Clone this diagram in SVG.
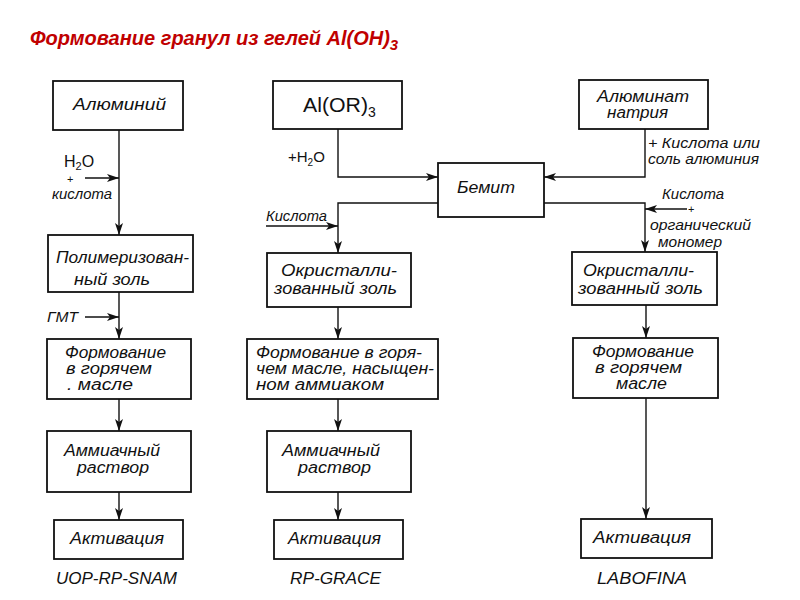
<svg xmlns="http://www.w3.org/2000/svg" width="800" height="600" viewBox="0 0 800 600">
<defs>
<style>
.box{fill:#fff;stroke:#111;stroke-width:1.8}
.ln{fill:none;stroke:#111;stroke-width:1.4}
.t{font-family:"Liberation Sans","DejaVu Sans",sans-serif;font-style:italic;font-size:16px;fill:#111}
.s{font-size:14px}
.u{font-family:"Liberation Sans","DejaVu Sans",sans-serif;font-style:normal;fill:#111}
.title{font-family:"Liberation Sans",Arial,sans-serif;font-weight:bold;font-style:italic;font-size:20px;fill:#c00000}
</style>
<marker id="ah" viewBox="0 0 12 8" refX="12" refY="4" markerWidth="12" markerHeight="8" markerUnits="userSpaceOnUse" orient="auto">
<path d="M0,0 L12,4 L0,8 L3,4 Z" fill="#111"/>
</marker>
</defs>
<rect width="800" height="600" fill="#fff"/>
<text class="title" x="30" y="45">Формование гранул из гелей Al(OH)<tspan dy="5" font-size="15">3</tspan></text>

<g id="connectors">
<path class="ln" d="M119,130 V235" marker-end="url(#ah)"/>
<path class="ln" d="M85,178 H119" marker-end="url(#ah)"/>
<path class="ln" d="M119,292 V339" marker-end="url(#ah)"/>
<path class="ln" d="M85,317 H119" marker-end="url(#ah)"/>
<path class="ln" d="M119,399 V431" marker-end="url(#ah)"/>
<path class="ln" d="M119,492 V520" marker-end="url(#ah)"/>
<path class="ln" d="M338,129 V177 H438" marker-end="url(#ah)"/>
<path class="ln" d="M438,203 H338 V253" marker-end="url(#ah)"/>
<path class="ln" d="M266,226 H338" marker-end="url(#ah)"/>
<path class="ln" d="M338,307 V339" marker-end="url(#ah)"/>
<path class="ln" d="M338,399 V431" marker-end="url(#ah)"/>
<path class="ln" d="M338,492 V520" marker-end="url(#ah)"/>
<path class="ln" d="M645,129 V177 H544" marker-end="url(#ah)"/>
<path class="ln" d="M544,203 H645 V252" marker-end="url(#ah)"/>
<path class="ln" d="M687,209 H645" marker-end="url(#ah)"/>
<path class="ln" d="M646,305 V338" marker-end="url(#ah)"/>
<path class="ln" d="M646,398 V519" marker-end="url(#ah)"/>
</g>

<g id="labels">
<text class="u" x="64" y="167" font-size="16">H<tspan dy="3" font-size="11">2</tspan><tspan dy="-3">O</tspan></text>
<text class="u" x="67" y="183" font-size="11">+</text>
<text class="t s" x="52" y="199" textLength="60" lengthAdjust="spacingAndGlyphs">кислота</text>
<text class="t s" x="47" y="322" textLength="31" lengthAdjust="spacingAndGlyphs">ГМТ</text>
<text class="u" x="288" y="162" font-size="15">+H<tspan dy="4" font-size="10">2</tspan><tspan dy="-4">O</tspan></text>
<text class="t s" x="266" y="221" textLength="61" lengthAdjust="spacingAndGlyphs">Кислота</text>
<text class="t s" x="648" y="148" textLength="112" lengthAdjust="spacingAndGlyphs">+ Кислота или</text>
<text class="t s" x="648" y="164" textLength="111" lengthAdjust="spacingAndGlyphs">соль алюминия</text>
<text class="t s" x="662" y="199" textLength="62" lengthAdjust="spacingAndGlyphs">Кислота</text>
<text class="u" x="688" y="213" font-size="11">+</text>
<text class="t s" x="650" y="230" textLength="101" lengthAdjust="spacingAndGlyphs">органический</text>
<text class="t s" x="658" y="247" textLength="64" lengthAdjust="spacingAndGlyphs">мономер</text>
<text class="t" x="56" y="584" textLength="121" lengthAdjust="spacingAndGlyphs">UOP-RP-SNAM</text>
<text class="t" x="290" y="584" textLength="91" lengthAdjust="spacingAndGlyphs">RP-GRACE</text>
<text class="t" x="597" y="584" textLength="90" lengthAdjust="spacingAndGlyphs">LABOFINA</text>
</g>

<g id="n-aluminum"><rect class="box" x="53" y="81" width="130" height="49"/><text class="t" x="73" y="110" textLength="93" lengthAdjust="spacingAndGlyphs">Алюминий</text></g>
<g id="n-polysol"><rect class="box" x="48" y="235" width="145" height="57"/><text class="t" x="56" y="263" textLength="133" lengthAdjust="spacingAndGlyphs">Полимеризован-</text><text class="t" x="74" y="285" textLength="76" lengthAdjust="spacingAndGlyphs">ный золь</text></g>
<g id="n-form1"><rect class="box" x="47" y="339" width="144" height="60"/><text class="t" x="65" y="358" textLength="101" lengthAdjust="spacingAndGlyphs">Формование</text><text class="t" x="66" y="374" textLength="86" lengthAdjust="spacingAndGlyphs">в горячем</text><text class="t" x="67" y="390" textLength="66" lengthAdjust="spacingAndGlyphs">. масле</text></g>
<g id="n-amm1"><rect class="box" x="47" y="431" width="144" height="61"/><text class="t" x="64" y="456" textLength="96" lengthAdjust="spacingAndGlyphs">Аммиачный</text><text class="t" x="77" y="473" textLength="72" lengthAdjust="spacingAndGlyphs">раствор</text></g>
<g id="n-act1"><rect class="box" x="54" y="520" width="129" height="39"/><text class="t" x="70" y="544" textLength="94" lengthAdjust="spacingAndGlyphs">Активация</text></g>

<g id="n-alor"><rect class="box" x="273" y="81" width="129" height="48"/><text class="u" x="303" y="112" font-size="21" textLength="65" lengthAdjust="spacingAndGlyphs">Al(OR)</text><text class="u" x="368" y="117" font-size="14">3</text></g>
<g id="n-boehmite"><rect class="box" x="438" y="163" width="106" height="54"/><text class="t" x="457" y="193" textLength="58" lengthAdjust="spacingAndGlyphs">Бемит</text></g>
<g id="n-cryst2"><rect class="box" x="267" y="253" width="144" height="54"/><text class="t" x="281" y="276" textLength="116" lengthAdjust="spacingAndGlyphs">Окристалли-</text><text class="t" x="274" y="294" textLength="123" lengthAdjust="spacingAndGlyphs">зованный золь</text></g>
<g id="n-form2"><rect class="box" x="247" y="339" width="191" height="60"/><text class="t" x="256" y="358" textLength="166" lengthAdjust="spacingAndGlyphs">Формование в горя-</text><text class="t" x="256" y="374" textLength="178" lengthAdjust="spacingAndGlyphs">чем масле, насыщен-</text><text class="t" x="256" y="390" textLength="128" lengthAdjust="spacingAndGlyphs">ном аммиаком</text></g>
<g id="n-amm2"><rect class="box" x="267" y="431" width="144" height="61"/><text class="t" x="282" y="456" textLength="98" lengthAdjust="spacingAndGlyphs">Аммиачный</text><text class="t" x="298" y="473" textLength="73" lengthAdjust="spacingAndGlyphs">раствор</text></g>
<g id="n-act2"><rect class="box" x="274" y="520" width="129" height="39"/><text class="t" x="288" y="544" textLength="93" lengthAdjust="spacingAndGlyphs">Активация</text></g>

<g id="n-aluminate"><rect class="box" x="579" y="80" width="129" height="49"/><text class="t" x="597" y="102" textLength="92" lengthAdjust="spacingAndGlyphs">Алюминат</text><text class="t" x="607" y="118" textLength="61" lengthAdjust="spacingAndGlyphs">натрия</text></g>
<g id="n-cryst3"><rect class="box" x="572" y="252" width="145" height="53"/><text class="t" x="583" y="276" textLength="111" lengthAdjust="spacingAndGlyphs">Окристалли-</text><text class="t" x="578" y="294" textLength="125" lengthAdjust="spacingAndGlyphs">зованный золь</text></g>
<g id="n-form3"><rect class="box" x="573" y="338" width="145" height="60"/><text class="t" x="592" y="357" textLength="102" lengthAdjust="spacingAndGlyphs">Формование</text><text class="t" x="595" y="373" textLength="87" lengthAdjust="spacingAndGlyphs">в горячем</text><text class="t" x="616" y="389" textLength="51" lengthAdjust="spacingAndGlyphs">масле</text></g>
<g id="n-act3"><rect class="box" x="581" y="519" width="131" height="39"/><text class="t" x="593" y="543" textLength="98" lengthAdjust="spacingAndGlyphs">Активация</text></g>
</svg>
